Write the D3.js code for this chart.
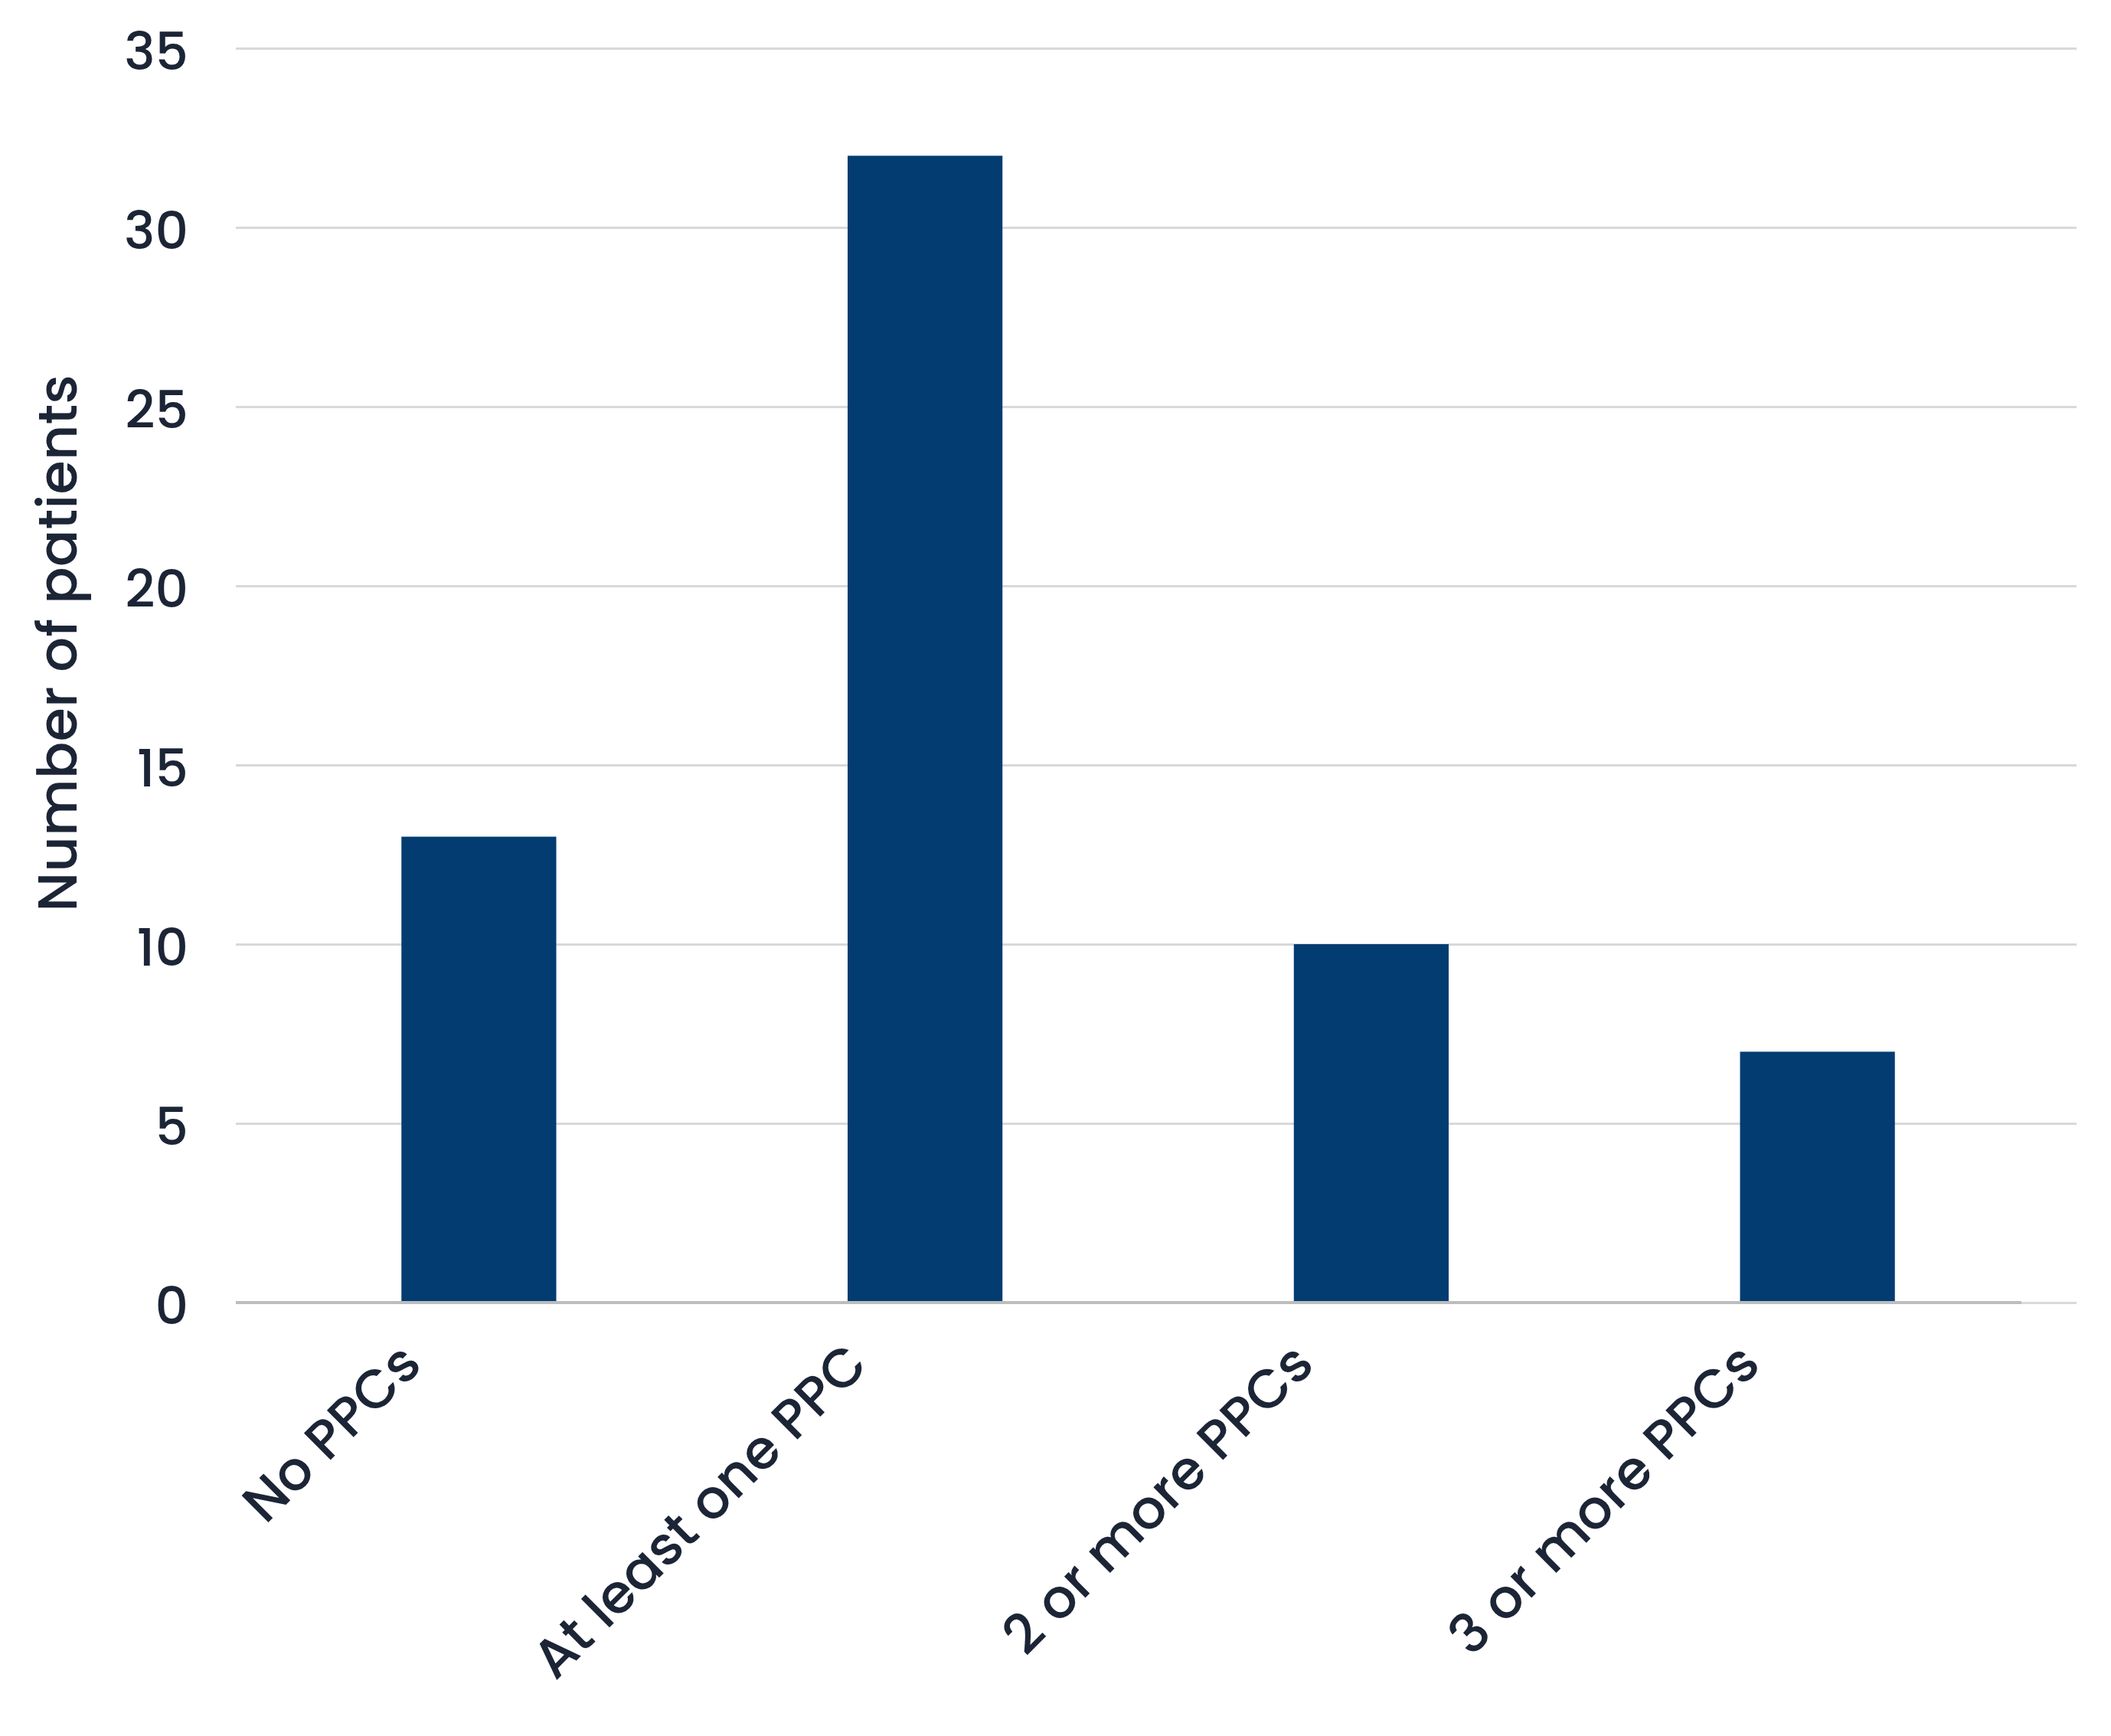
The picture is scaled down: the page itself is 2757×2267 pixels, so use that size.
<!DOCTYPE html>
<html>

<head>
  <meta charset="utf-8">
  <script src="https://cdn.jsdelivr.net/npm/d3@7"></script>
  <style>
    body {
      margin: 0;
      background: #ffffff;
    }

    text {
      font-family: "Poppins", "Open Sans", sans-serif;
      font-weight: 500;
      fill: #1c2536;
    }

    .gridlines line {
      stroke: #d9d9d9;
      stroke-width: 3px;
    }

    .gridlines .domain {
      stroke: none;
    }
  </style>
</head>

<body>
  <svg id="chart" width="2757" height="2267"></svg>

  <script>
    // data
    const categories = ["No PPCs", "At least one PPC", "2 or more PPCs", "3 or more PPCs"];
    const patients = [13, 32, 10, 7];
    const yTicks = [0, 5, 10, 15, 20, 25, 30, 35];
    const yTitle = "Number of patients";

    const svg = d3.select("svg#chart");

    // plot frame
    const gridLeft = 308, gridRight = 2712;
    const yTop = 63, yBottom = 1701;

    const xScale = d3.scaleBand()
      .domain(categories)
      .range([334, 2665])
      .paddingInner(0.653)
      .paddingOuter(0.3265);

    const yScale = d3.scaleLinear()
      .domain([0, 35])
      .range([yBottom, yTop]);

    // gridlines
    const grid = d3.axisLeft(yScale)
      .tickValues(yTicks)
      .tickSize(-(gridRight - gridLeft))
      .tickFormat("");

    svg.append("g")
      .attr("class", "gridlines")
      .attr("transform", "translate(" + gridLeft + ",0)")
      .call(grid);

    // y tick labels
    const leftAxis = d3.axisLeft(yScale)
      .tickValues(yTicks)
      .tickSize(0)
      .tickPadding(0);

    const yAxisG = svg.append("g")
      .attr("transform", "translate(246,0)")
      .call(leftAxis);
    yAxisG.select(".domain").remove();
    yAxisG.selectAll("text")
      .attr("font-size", "68px")
      .attr("dy", "0.4em")
      .attr("fill", "#1c2536");

    // bars
    svg.append("g")
      .selectAll("rect")
      .data(categories)
      .join("rect")
      .attr("x", d => xScale(d))
      .attr("width", xScale.bandwidth())
      .attr("y", (d, i) => yScale(patients[i]))
      .attr("height", (d, i) => yScale(0) - yScale(patients[i]))
      .attr("fill", "#023c70");

    // baseline
    svg.append("line")
      .attr("x1", gridLeft)
      .attr("x2", 2640)
      .attr("y1", yScale(0))
      .attr("y2", yScale(0))
      .attr("stroke", "#bdbdbd")
      .attr("stroke-width", 4);

    // category labels, rotated
    const bottomAxis = d3.axisBottom(xScale)
      .tickSize(0)
      .tickPadding(0);

    const xAxisG = svg.append("g")
      .attr("transform", "translate(0," + yBottom + ")")
      .call(bottomAxis);
    xAxisG.select(".domain").remove();
    xAxisG.selectAll("text")
      .attr("font-size", "71px")
      .attr("fill", "#1c2536")
      .attr("text-anchor", "end")
      .attr("dy", 0)
      .attr("y", 0)
      .attr("transform", "translate(" + (xScale.bandwidth() / 2 - 173) + ",84) rotate(-45)");

    // axis title
    svg.append("text")
      .attr("transform", "translate(100,840) rotate(-90)")
      .attr("text-anchor", "middle")
      .attr("font-size", "72px")
      .text(yTitle);
  </script>
</body>

</html>
